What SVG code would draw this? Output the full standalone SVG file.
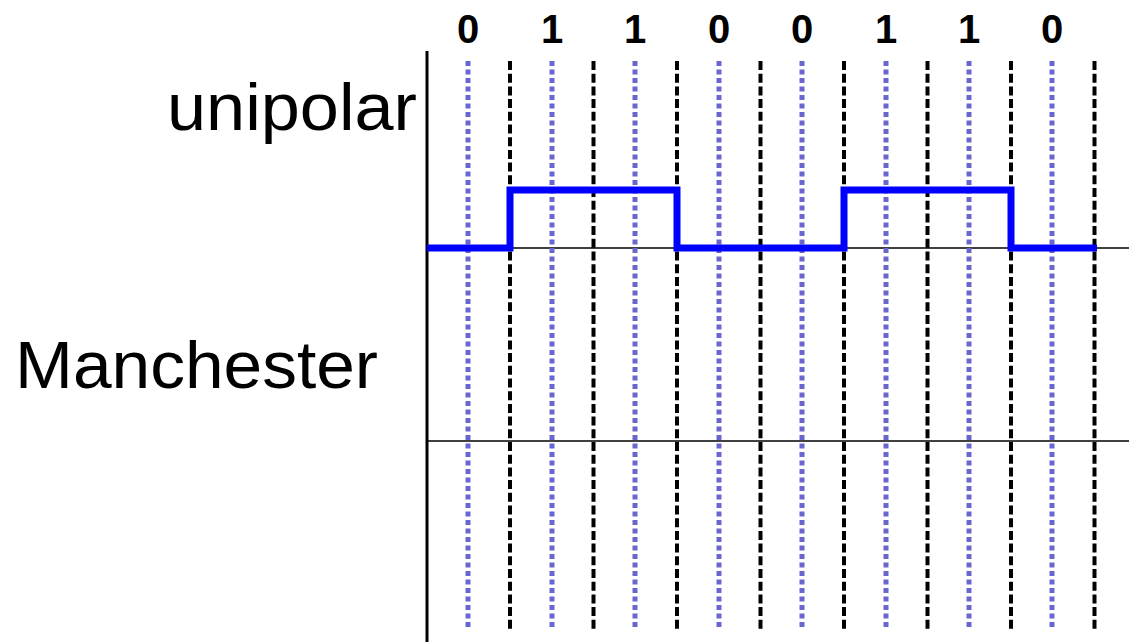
<svg xmlns="http://www.w3.org/2000/svg" width="1129" height="644" viewBox="0 0 1129 644">
<style>
.lbl{font-family:"Liberation Sans",Arial,sans-serif;font-size:66px;fill:#000}
.bit{font-family:"Liberation Sans",Arial,sans-serif;font-size:40px;font-weight:bold;fill:#000;text-anchor:middle}
.dot{stroke:#6a66d0;stroke-width:5;stroke-dasharray:5 3.5;fill:none}
.dash{stroke:#000;stroke-width:4;stroke-dasharray:9 3.7;fill:none}
.hl{stroke:#000;stroke-width:1.5;fill:none}
</style>
<rect width="1129" height="644" fill="#fff"/>
<g id="labels">
<text class="lbl" x="167" y="130" textLength="250" lengthAdjust="spacingAndGlyphs">unipolar</text>
<text class="lbl" x="15" y="388" textLength="363" lengthAdjust="spacingAndGlyphs">Manchester</text>
</g>
<g id="bits">
<text class="bit" x="468" y="43">0</text>
<text class="bit" x="552" y="43">1</text>
<text class="bit" x="635" y="43">1</text>
<text class="bit" x="719" y="43">0</text>
<text class="bit" x="802" y="43">0</text>
<text class="bit" x="886" y="43">1</text>
<text class="bit" x="969" y="43">1</text>
<text class="bit" x="1052" y="43">0</text>
</g>
<g id="grid">
<line class="hl" x1="427" y1="248" x2="1129" y2="248"/>
<line class="hl" x1="427" y1="441" x2="1129" y2="441"/>
<g id="bit-centers">
<line class="dot" x1="468" y1="61" x2="468" y2="627"/>
<line class="dot" x1="552" y1="61" x2="552" y2="627"/>
<line class="dot" x1="635" y1="61" x2="635" y2="627"/>
<line class="dot" x1="719" y1="61" x2="719" y2="627"/>
<line class="dot" x1="802" y1="61" x2="802" y2="627"/>
<line class="dot" x1="886" y1="61" x2="886" y2="627"/>
<line class="dot" x1="969" y1="61" x2="969" y2="627"/>
<line class="dot" x1="1052" y1="61" x2="1052" y2="627"/>
</g>
<g id="bit-boundaries">
<line class="dash" x1="510" y1="61" x2="510" y2="629"/>
<line class="dash" x1="593.5" y1="61" x2="593.5" y2="629"/>
<line class="dash" x1="677" y1="61" x2="677" y2="629"/>
<line class="dash" x1="760.5" y1="61" x2="760.5" y2="629"/>
<line class="dash" x1="844" y1="61" x2="844" y2="629"/>
<line class="dash" x1="927.5" y1="61" x2="927.5" y2="629"/>
<line class="dash" x1="1011" y1="61" x2="1011" y2="629"/>
<line class="dash" x1="1094.5" y1="61" x2="1094.5" y2="629"/>
</g>
</g>
<g id="axis">
<line x1="427" y1="51" x2="427" y2="642" stroke="#000" stroke-width="3"/>
</g>
<g id="unipolar-signal">
<polyline points="427,248 510,248 510,190 677,190 677,248 844,248 844,190 1011,190 1011,248 1097,248" fill="none" stroke="#0000ff" stroke-width="7" stroke-linejoin="miter" stroke-linecap="butt"/>
</g>
</svg>
